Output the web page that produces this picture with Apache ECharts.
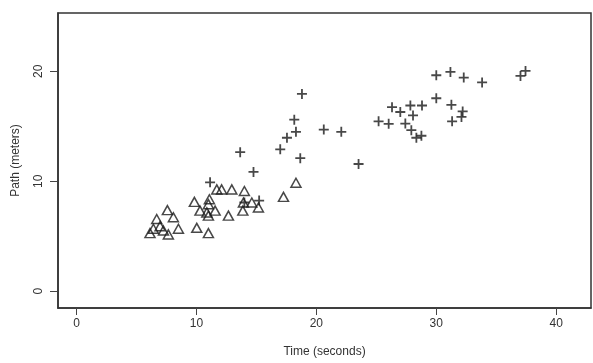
<!DOCTYPE html>
<html><head><meta charset="utf-8">
<script src="https://cdn.jsdelivr.net/npm/echarts@6/dist/echarts.min.js"></script>
<style>html,body{margin:0;padding:0;background:#fff}#c{width:593px;height:363px}</style>
</head><body><div id="c"></div>
<script>
// Triangle group: [time (s), path (m)]
const triangleTime = [11.7,12.1,12.95,14.0,18.3,17.26,9.83,11.08,11.0,10.3,10.87,11.56,11.0,12.67,13.92,13.87,14.62,15.17,7.58,8.08,6.69,6.97,6.41,6.13,7.25,7.66,8.5,10.03,11.0];
const trianglePath = [9.26,9.26,9.26,9.12,9.87,8.58,8.13,8.37,7.92,7.33,7.17,7.33,6.88,6.88,8.07,7.33,8.07,7.62,7.38,6.73,6.57,5.92,5.68,5.29,5.53,5.17,5.68,5.77,5.29];
// Plus group
const plusTime = [18.8,18.16,18.3,17.55,16.99,18.66,13.65,14.76,11.14,20.62,22.08,23.52,25.19,26.03,26.31,27.0,27.84,28.81,28.06,27.42,27.92,28.34,28.76,30.0,31.18,32.29,33.82,30.0,31.26,32.2,32.1,31.32,37.02,37.44,15.23,14.0];
const plusPath = [17.94,15.6,14.5,13.96,12.91,12.1,12.65,10.85,9.91,14.7,14.5,11.57,15.45,15.22,16.74,16.3,16.89,16.89,15.99,15.25,14.65,13.96,14.14,19.64,19.94,19.43,18.99,17.55,16.95,16.35,15.85,15.45,19.58,20.03,8.25,8.07];
const xTicks = [0,10,20,30,40];
const yTicks = [0,10,20];

const zip = (a,b)=>a.map((v,i)=>[v,b[i]]);
const chart = echarts.init(document.getElementById('c'));
const font = 'Liberation Sans, Arial, sans-serif';
chart.setOption({
  animation:false,
  grid:{left:58,top:13,right:2,bottom:51,show:true,borderColor:'#333',borderWidth:1.5,backgroundColor:'#fff'},
  xAxis:{type:'value',min:-1.54,max:42.9,
    name:'Time (seconds)',nameLocation:'middle',nameGap:38,
    nameTextStyle:{fontFamily:font,fontSize:12,color:'#333'},
    axisLine:{show:true,onZero:false,lineStyle:{color:'#333',width:1.5}},
    axisTick:{show:true,inside:false,length:7,customValues:xTicks,lineStyle:{color:'#444'}},
    axisLabel:{customValues:xTicks,margin:10,fontFamily:font,fontSize:12,color:'#333'},
    splitLine:{show:false}},
  yAxis:{type:'value',min:-1.52,max:25.3,
    name:'Path (meters)',nameLocation:'middle',nameGap:36,
    nameTextStyle:{fontFamily:font,fontSize:12,color:'#333'},
    axisLine:{show:true,onZero:false,lineStyle:{color:'#333',width:1.5}},
    axisTick:{show:true,inside:false,length:8,customValues:yTicks,lineStyle:{color:'#444'}},
    axisLabel:{customValues:yTicks,rotate:90,margin:13,fontFamily:font,fontSize:12,color:'#333'},
    splitLine:{show:false}},
  series:[
    {type:'scatter',data:zip(triangleTime,trianglePath),symbol:'triangle',symbolSize:[10,9],
     itemStyle:{color:'rgba(255,255,255,0)',borderColor:'#1a1a1a',borderWidth:1.5}},
    {type:'scatter',data:zip(plusTime,plusPath),symbol:'path://M5,0L5,10M0,5L10,5',symbolSize:10,
     itemStyle:{color:'none',borderColor:'#1a1a1a',borderWidth:1.8}}
  ]
});
</script></body></html>
